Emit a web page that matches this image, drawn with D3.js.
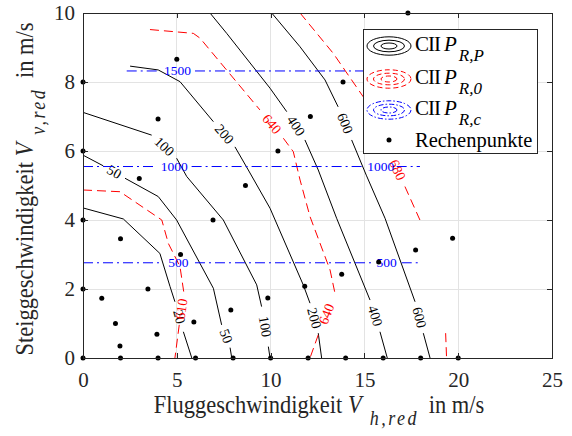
<!DOCTYPE html>
<html>
<head>
<meta charset="utf-8">
<script src="https://cdn.jsdelivr.net/npm/d3@7"></script>
<style>
  html, body { margin: 0; padding: 0; background: #fff; }
  svg { display: block; }
  svg text { font-family: "Liberation Serif", "Times New Roman", serif; }
</style>
</head>
<body>
<svg id="chart" width="572" height="436"></svg>
<script>
// Axis ticks
const xTicks = [0, 5, 10, 15, 20, 25];
const yTicks = [0, 2, 4, 6, 8, 10];

// Contour lines of P_R,P (black). Each line is a list of parts; a label sits in every gap between parts.
const levelsPRP = [20, 50, 100, 200, 400, 600];
const linesPRP = [
  [[[0, 4.35], [2.15, 4.03], [4.1, 3.03], [4.64, 2.07], [4.9, 1.63]], [[5.35, 0.76], [5.8, 0]]],
  [[[0, 5.88], [1.08, 5.57]], [[2.24, 5.21], [4.01, 4.68], [4.99, 4.0], [6.95, 2.02], [7.39, 0.96]], [[7.84, 0.3], [7.93, 0]]],
  [[[0, 7.12], [3.66, 6.46]], [[4.99, 5.79], [5.53, 5.26], [7.48, 4.0], [9.26, 2.12], [9.52, 1.49]], [[9.88, 0.33], [9.97, 0]]],
  [[[2.51, 8.46], [4.01, 8.35], [5.17, 8.01], [6.95, 6.85]], [[8.1, 6.12], [8.81, 5.45], [9.97, 4.34], [11.74, 2.12], [12.1, 1.59]], [[12.54, 0.72], [12.72, 0]]],
  [[[6.77, 10], [7.66, 9.41], [9.97, 7.82], [10.86, 7.14]], [[11.83, 6.32], [12.54, 5.45], [13.52, 4.05], [15.3, 1.68]], [[15.83, 0.76], [16.22, 0]]],
  [[[10.06, 10], [11.57, 9.02], [12.9, 8.06], [13.6, 7.28]], [[14.32, 6.32], [15.1, 5.3], [16.1, 4.05], [17.7, 1.63]], [[18.14, 0.72], [18.5, 0]]]
];

// Contour lines of P_R,0 (red dashed)
const levelsPR0 = [610, 640, 680, 680];
const linesPR0 = [
  [[[0, 4.87], [1.97, 4.82], [4.2, 4.0], [4.55, 3.32], [5.17, 2.65], [5.38, 1.88]], [[5.13, 0.96], [4.9, 0]]],
  [[[3.57, 9.52], [5.88, 9.41], [6.24, 9.27], [9.43, 7.19]], [[10.68, 6.37], [11.21, 5.98], [11.57, 5.16], [12.1, 4.1], [13.17, 2.55], [13.43, 1.88]], [[12.54, 0.67], [12.1, 0]]],
  [[[11.57, 10], [13.34, 8.83], [14.94, 7.57], [16.36, 5.93]], [[17.16, 4.97], [17.96, 4.0]]],
  [[[19.33, 0.72], [19.38, 0]]]
];

// Contour lines of P_R,c (blue dash-dot)
const levelsPRc = [500, 1000, 1500];
const linesPRc = [
  [[[0, 2.76], [4.19, 2.76]], [[5.97, 2.76], [15.39, 2.76]], [[16.99, 2.76], [17.96, 2.76]]],
  [[[0, 5.55], [3.94, 5.55]], [[5.79, 5.55], [15.03, 5.55]], [[16.72, 5.55], [17.96, 5.55]]],
  [[[2.33, 8.32], [4.1, 8.32]], [[5.97, 8.32], [17.96, 8.32]]]
];

// Calculation points (Rechenpunkte)
const calcPoints = [
  [0, 0], [2, 0], [4, 0], [6, 0], [8, 0], [10, 0], [12, 0], [14, 0], [16, 0], [18, 0], [20, 0],
  [1.97, 0.35], [3.94, 0.69], [5.91, 1.04], [7.88, 1.39], [9.85, 1.74], [11.82, 2.08], [13.79, 2.43], [15.76, 2.78], [17.73, 3.13], [19.70, 3.47],
  [1.73, 1.0], [3.46, 2.0], [5.2, 3.0], [6.93, 4.0], [8.66, 5.0], [10.39, 6.0], [12.12, 7.0], [13.86, 8.0], [15.59, 9.0], [17.32, 10.0],
  [1.0, 1.73], [2.0, 3.46], [3.0, 5.2], [4.0, 6.93], [5.0, 8.66],
  [0, 2], [0, 4], [0, 6], [0, 8]
];

const legendLabels = ["CII", "CII", "CII", "Rechenpunkte"];
const legendSubs = ["R,P", "R,0", "R,c"];

const svg = d3.select("#chart");
const plot = { left: 83, right: 552, top: 13, bottom: 358 };
const x = d3.scaleLinear().domain([0, 25]).range([plot.left, plot.right]);
const y = d3.scaleLinear().domain([0, 10]).range([plot.bottom, plot.top]);
const axisColor = "#262626";

// Grid
const grid = svg.append("g").attr("stroke", "#e3e3e3").attr("stroke-width", 1).attr("shape-rendering", "crispEdges");
grid.selectAll(".gx").data(xTicks.slice(1, -1)).join("line")
  .attr("x1", d => x(d)).attr("x2", d => x(d)).attr("y1", plot.top).attr("y2", plot.bottom);
grid.selectAll(".gy").data(yTicks.slice(1, -1)).join("line")
  .attr("y1", d => y(d)).attr("y2", d => y(d)).attr("x1", plot.left).attr("x2", plot.right);

const line = d3.line().x(d => x(d[0])).y(d => y(d[1]));

function drawFamily(levels, lines, color, dash, fontSize) {
  const g = svg.append("g");
  lines.forEach((parts, i) => {
    parts.forEach(p => {
      g.append("path").attr("d", line(p)).attr("fill", "none")
        .attr("stroke", color).attr("stroke-width", 1)
        .attr("stroke-dasharray", dash);
    });
    for (let k = 0; k < parts.length - 1; k++) {
      const a = parts[k][parts[k].length - 1];
      const b = parts[k + 1][0];
      const ax = x(a[0]), ay = y(a[1]), bx = x(b[0]), by = y(b[1]);
      const cx = (ax + bx) / 2, cy = (ay + by) / 2;
      let ang = Math.atan2(by - ay, bx - ax) * 180 / Math.PI;
      if (ang > 90) ang -= 180;
      if (ang <= -90) ang += 180;
      g.append("text")
        .attr("transform", `translate(${cx},${cy}) rotate(${ang})`)
        .attr("text-anchor", "middle").attr("dominant-baseline", "central")
        .attr("font-size", fontSize).attr("fill", color)
        .text(levels[i]);
    }
  });
}

drawFamily(levelsPRP, linesPRP, "#000000", null, 14);
drawFamily(levelsPR0, linesPR0, "#ff0000", "9,5", 14);
drawFamily(levelsPRc, linesPRc, "#0000ff", "10,4,2,4", 13.5);

// Calculation points
svg.append("g").selectAll("circle").data(calcPoints).join("circle")
  .attr("cx", d => x(d[0])).attr("cy", d => y(d[1])).attr("r", 2.5).attr("fill", "#000");

// Axes with inward ticks
function styleAxis(g) {
  g.attr("font-family", null);
  g.select(".domain").remove();
  g.selectAll(".tick line").attr("stroke", axisColor).attr("shape-rendering", "crispEdges");
  g.selectAll(".tick text").attr("fill", axisColor).attr("font-size", 21)
    .style("font-family", '"Liberation Serif", "Times New Roman", serif');
}
svg.append("g").attr("transform", `translate(0,${plot.bottom})`)
  .call(d3.axisBottom(x).tickValues(xTicks).tickSize(-5).tickSizeOuter(0).tickPadding(14))
  .call(styleAxis);
svg.append("g").attr("transform", `translate(0,${plot.top})`)
  .call(d3.axisTop(x).tickValues(xTicks).tickSize(-5).tickSizeOuter(0).tickFormat(""))
  .call(styleAxis);
svg.append("g").attr("transform", `translate(${plot.left},0)`)
  .call(d3.axisLeft(y).tickValues(yTicks).tickSize(-5).tickSizeOuter(0).tickPadding(8))
  .call(styleAxis);
svg.append("g").attr("transform", `translate(${plot.right},0)`)
  .call(d3.axisRight(y).tickValues(yTicks).tickSize(-5).tickSizeOuter(0).tickFormat(""))
  .call(styleAxis);

svg.append("rect")
  .attr("x", plot.left).attr("y", plot.top)
  .attr("width", plot.right - plot.left).attr("height", plot.bottom - plot.top)
  .attr("fill", "none").attr("stroke", axisColor).attr("stroke-width", 1)
  .attr("shape-rendering", "crispEdges");

// Axis titles (glyphs slightly stretched across the baseline)
function axisTitle(transform, main, sub) {
  const t = svg.append("text").attr("transform", transform)
    .attr("text-anchor", "middle").attr("font-size", 22.5).attr("fill", axisColor);
  t.append("tspan").text(main + " ");
  t.append("tspan").attr("font-style", "italic").text("V");
  t.append("tspan").attr("font-style", "italic").attr("font-size", 18)
    .attr("letter-spacing", 2.5).attr("dy", 11).attr("dx", 8).text(sub);
  t.append("tspan").attr("dy", -11).attr("dx", 4).text(" in m/s");
}
axisTitle("translate(319,413) scale(1,1.12)", "Fluggeschwindigkeit", "h,red");
axisTitle("translate(33,189) rotate(-90) scale(1,1.12)", "Steiggeschwindigkeit", "v,red");

// Legend
const leg = svg.append("g");
leg.append("rect").attr("x", 363.5).attr("y", 29.5).attr("width", 174).attr("height", 124)
  .attr("fill", "#fff").attr("stroke", axisColor).attr("stroke-width", 1);
const rowsY = [46, 79, 110, 140];
const legendStyles = [
  { color: "#000000", dash: null },
  { color: "#ff0000", dash: "5,3" },
  { color: "#0000ff", dash: "5,2,1.5,2" }
];
const rings = [[22, 9.2], [15.5, 5.8], [8, 3]];
legendStyles.forEach((s, i) => {
  rings.forEach(r => {
    leg.append("ellipse").attr("cx", 389).attr("cy", rowsY[i]).attr("rx", r[0]).attr("ry", r[1])
      .attr("fill", "none").attr("stroke", s.color).attr("stroke-width", 1)
      .attr("stroke-dasharray", s.dash);
  });
  const t = leg.append("text").attr("x", 415).attr("y", rowsY[i] + 5)
    .attr("font-size", 21).attr("fill", "#000").attr("transform", null);
  t.append("tspan").attr("letter-spacing", -1).text(legendLabels[i]);
  t.append("tspan").attr("font-style", "italic").attr("dx", 4).text("P");
  t.append("tspan").attr("font-style", "italic").attr("font-size", 17).attr("dy", 10).attr("dx", 2).text(legendSubs[i]);
});
leg.append("circle").attr("cx", 389).attr("cy", rowsY[3]).attr("r", 2.5).attr("fill", "#000");
leg.append("text").attr("x", 415).attr("y", rowsY[3] + 7).attr("font-size", 20.5).attr("fill", "#000").text(legendLabels[3]);
</script>
</body>
</html>
